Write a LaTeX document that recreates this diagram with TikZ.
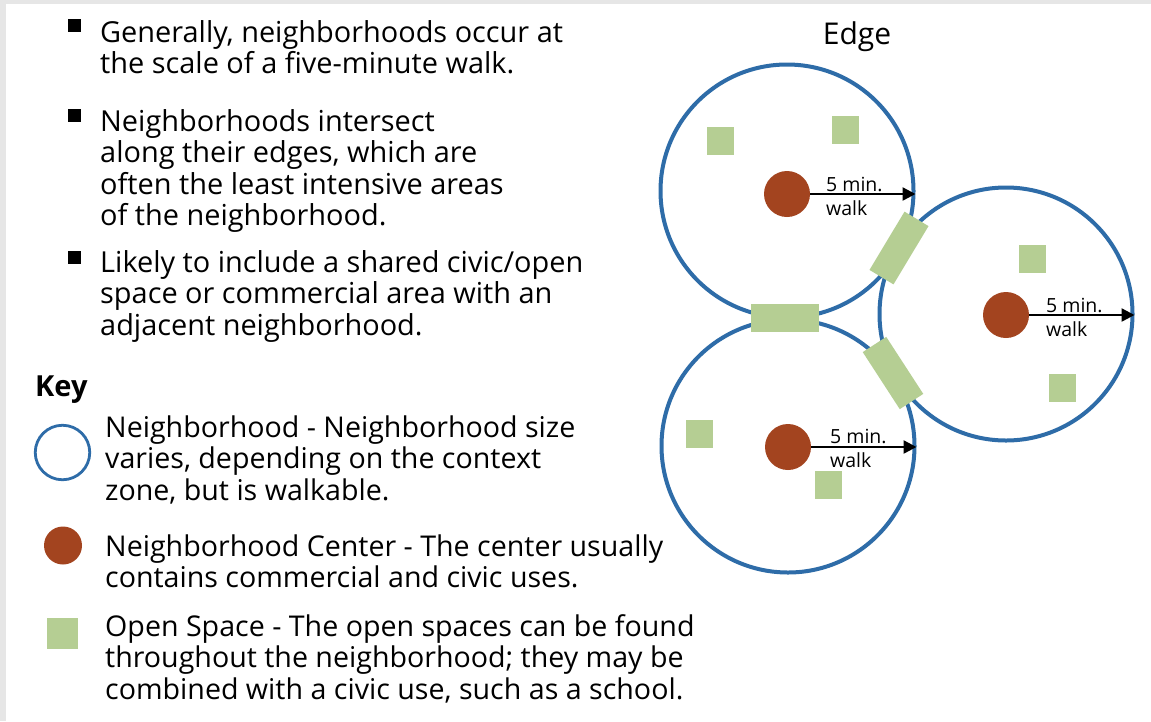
\documentclass[tikz,border=0pt]{standalone}
\usepackage{fontspec}
\setmainfont{Open Sans}
\usetikzlibrary{arrows.meta}
\definecolor{nbblue}{HTML}{2E6CA8}
\definecolor{nbbrown}{HTML}{A3441F}
\definecolor{nbgreen}{HTML}{B5CE93}
\definecolor{framegray}{HTML}{E6E6E6}
\begin{document}
\begin{tikzpicture}[x=1pt,y=-1pt,
  hood/.style={circle, draw=nbblue, line width=4pt, minimum size=253pt, inner sep=0pt},
  hubdot/.style={circle, fill=nbbrown, minimum size=46pt, inner sep=0pt},
  openspace/.style={rectangle, fill=nbgreen, minimum width=27pt, minimum height=28pt, inner sep=0pt},
  edgespace/.style={rectangle, fill=nbgreen, minimum width=68pt, minimum height=28pt, inner sep=0pt},
  walkarrow/.style={-{Triangle[length=13pt,width=13pt]}, line width=2.4pt},
  walklabel/.style={anchor=base west, inner sep=0pt, font=\fontsize{19.5}{21}\selectfont},
  para/.style={anchor=base west, inner sep=0pt, font=\fontsize{28.9}{31.5}\selectfont},
  keypara/.style={anchor=base west, inner sep=0pt, font=\fontsize{28.6}{31.5}\selectfont},
  bulletsq/.style={rectangle, fill=black, minimum size=13pt, inner sep=0pt},
  keyhood/.style={circle, draw=nbblue, line width=2.8pt, minimum size=54.5pt, inner sep=0pt},
  keydot/.style={circle, fill=nbbrown, minimum size=38pt, inner sep=0pt},
  keysq/.style={rectangle, fill=nbgreen, minimum size=31pt, inner sep=0pt},
]
\useasboundingbox (0,0) rectangle (1151,721);
\fill[white] (0,0) rectangle (1151,721);
\fill[framegray] (0,0) rectangle (6,721);
\fill[framegray] (0,0) rectangle (1151,4);

% bullets
\node[bulletsq] (s1) at (74.5,25.5) {};
\node[bulletsq] (s2) at (74.5,115.5) {};
\node[bulletsq] (s3) at (74.5,257.5) {};
\node[para] (b1) at (100,42) {\parbox[t]{700pt}{\raggedright Generally, neighborhoods occur at\\the scale of a five-minute walk.}};
\node[para] (b2) at (100,131) {\parbox[t]{700pt}{\raggedright Neighborhoods intersect\\along their edges, which are\\often the least intensive areas\\of the neighborhood.}};
\node[para] (b3) at (100,272) {\parbox[t]{700pt}{\raggedright Likely to include a shared civic/open\\space or commercial area with an\\adjacent neighborhood.}};

% key
\node[para, font=\fontsize{29}{31.5}\selectfont\bfseries] (key) at (35,396) {Key};
\node[keyhood] (k1) at (62.5,452.5) {};
\node[keydot] (k2) at (63,545.5) {};
\node[keysq] (k3) at (62.5,633.5) {};
\node[keypara] (k1t) at (105,437) {\parbox[t]{700pt}{\raggedright Neighborhood - Neighborhood size\\varies, depending on the context\\zone, but is walkable.}};
\node[keypara] (k2t) at (105,556) {\parbox[t]{700pt}{\raggedright Neighborhood Center - The center usually\\contains commercial and civic uses.}};
\node[keypara] (k3t) at (105,636) {\parbox[t]{700pt}{\raggedright Open Space - The open spaces can be found\\throughout the neighborhood; they may be\\combined with a civic use, such as a school.}};

% diagram
\node[anchor=base, inner sep=0pt, font=\fontsize{30}{32}\selectfont] (edge) at (857,44) {Edge};
\node[hood] (n1) at (787,191) {};
\node[hood] (n2) at (1006,314) {};
\node[hood] (n3) at (788,446) {};

\node[edgespace] (e13) at (784.5,318) {};
\node[edgespace, rotate=59] (e12) at (899,248) {};
\node[edgespace, rotate=-57] (e23) at (893,373) {};

\node[openspace] (o1) at (720.5,141) {};
\node[openspace] (o2) at (845.5,130) {};
\node[openspace] (o3) at (1032.5,259) {};
\node[openspace] (o4) at (1062.5,388) {};
\node[openspace] (o5) at (699.5,434) {};
\node[openspace] (o6) at (828.5,485) {};

\node[hubdot] (c1) at (787,194) {};
\node[hubdot] (c2) at (1006,315) {};
\node[hubdot] (c3) at (788,447) {};

\draw[walkarrow] (c1.east) -- (c1.east -| n1.east);
\draw[walkarrow] (c2.east) -- (c2.east -| n2.east);
\draw[walkarrow] (c3.east) -- (c3.east -| n3.east);

\node[walklabel] (w1a) at (826,191) {5 min.};
\node[walklabel] (w1b) at (826,215) {walk};
\node[walklabel] (w2a) at (1046,312) {5 min.};
\node[walklabel] (w2b) at (1046,336) {walk};
\node[walklabel] (w3a) at (830,443) {5 min.};
\node[walklabel] (w3b) at (830,467) {walk};
\end{tikzpicture}
\end{document}
